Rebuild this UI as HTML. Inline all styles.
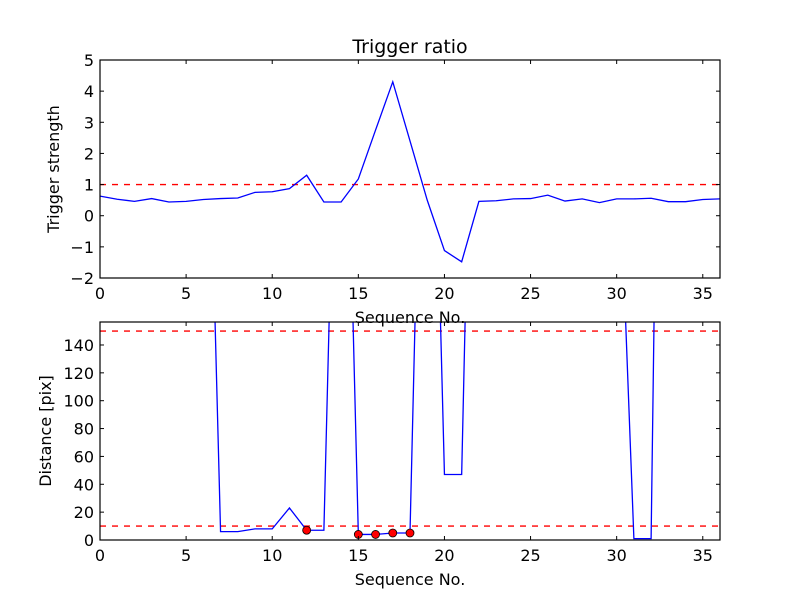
<!DOCTYPE html>
<html><head><meta charset="utf-8"><style>
body{margin:0;background:#fff;}
svg{display:block;font-family:"DejaVu Sans","Liberation Sans",sans-serif;}
</style></head><body>
<svg id="fig" width="800" height="600" viewBox="0 0 800 600" xmlns="http://www.w3.org/2000/svg">
<rect width="800" height="600" fill="#fff"/>
</svg>
<script>
const topX = [0,1,2,3,4,5,6,7,8,9,10,11,12,13,14,15,16,17,18,19,20,21,22,23,24,25,26,27,28,29,30,31,32,33,34,35,36];
const topY = [0.63,0.53,0.46,0.55,0.44,0.46,0.52,0.55,0.57,0.75,0.77,0.87,1.3,0.44,0.44,1.18,2.75,4.3,2.4,0.5,-1.12,-1.48,0.46,0.48,0.54,0.55,0.66,0.47,0.54,0.42,0.54,0.54,0.56,0.45,0.45,0.52,0.54];
const topThreshold = 1;
const botY = [500,500,500,500,500,500,478,6,6,8,8,23,7,7,500,4,4,5,5,525,47,47,597,500,500,500,500,500,500,500,326,1,1,920,500,500,500];
const markX = [12,15,16,17,18];
const markY = [7,4,4,5,5];
const botThresholds = [150,10];
const xTicks = [0,5,10,15,20,25,30,35];
const topYTicks = [-2,-1,0,1,2,3,4,5];
const botYTicks = [0,20,40,60,80,100,120,140];

const NS='http://www.w3.org/2000/svg';
const svg=document.getElementById('fig');
function mk(tag,attrs,parent){const e=document.createElementNS(NS,tag);for(const k in attrs)e.setAttribute(k,attrs[k]);(parent||svg).appendChild(e);return e;}

function panel(cfg){
  const g=mk('g',{});
  
  
  const L=100,R=720,T=cfg.top,B=cfg.bottom;
  const sx=v=>L+(v-0)/(36-0)*(R-L);
  const sy=v=>B-(v-cfg.ymin)/(cfg.ymax-cfg.ymin)*(B-T);
  const clip='c'+cfg.name;
  const defs=mk('defs',{},g);const cp=mk('clipPath',{id:clip},defs);mk('rect',{x:L,y:T,width:R-L,height:B-T},cp);
  const plot=mk('g',{'clip-path':'url(#'+clip+')'},g);
  cfg.thresholds.forEach(t=>{
    const l=mk('line',{x1:L,x2:R,y1:sy(t),y2:sy(t),stroke:'#ff0000','stroke-width':1.4,'stroke-dasharray':'6,6'},plot);
    
    
  });
  const pts=cfg.ys.map((v,i)=>sx(i)+','+sy(v)).join(' ');
  const pl=mk('polyline',{points:pts,fill:'none',stroke:'#0000ff','stroke-width':1.3},plot);
  
  
  if(cfg.mx){cfg.mx.forEach((x,i)=>{
    const c=mk('circle',{cx:sx(x),cy:sy(cfg.my[i]),r:4,fill:'#ff0000',stroke:'#000','stroke-width':0.8},plot);
    
    
  });}
  const frame=mk('rect',{x:L,y:T,width:R-L,height:B-T,fill:'none',stroke:'#000','stroke-width':1.2},g);
  
  
  xTicks.forEach(t=>{
    const x=sx(t);
    mk('line',{x1:x,x2:x,y1:B,y2:B-4,stroke:'#000'},g);
    mk('line',{x1:x,x2:x,y1:T,y2:T+4,stroke:'#000'},g);
    const tx=mk('text',{x:x,y:B+21,'text-anchor':'middle','font-size':16},g);tx.textContent=t;
    
    
  });
  cfg.yticks.forEach(t=>{
    const y=sy(t);
    mk('line',{x1:L,x2:L+4,y1:y,y2:y,stroke:'#000'},g);
    mk('line',{x1:R,x2:R-4,y1:y,y2:y,stroke:'#000'},g);
    const tx=mk('text',{x:L-6,y:y+6,'text-anchor':'end','font-size':16},g);tx.textContent=(t<0?'\u2212'+(-t):t);
    
    
  });
  const xl=mk('text',{x:(L+R)/2,y:B+45,'text-anchor':'middle','font-size':16},g);xl.textContent='Sequence No.';
  
  
  const cy=(T+B)/2;
  const yl=mk('text',{x:cfg.ylx,y:cy,'text-anchor':'middle','font-size':16,transform:'rotate(-90 '+cfg.ylx+' '+cy+')'},g);yl.textContent=cfg.ylabel;
  
  
}
panel({name:'top-panel',top:60,bottom:278,ymin:-2,ymax:5,ys:topY,thresholds:[topThreshold],yticks:topYTicks,ylabel:'Trigger strength',ylx:59});
panel({name:'bottom-panel',top:322,bottom:540,ymin:0,ymax:156.5,ys:botY,thresholds:botThresholds,yticks:botYTicks,ylabel:'Distance [pix]',ylx:51,mx:markX,my:markY});
const title=mk('text',{x:410,y:53,'text-anchor':'middle','font-size':19});
title.textContent='Trigger ratio';


</script>
</body></html>
